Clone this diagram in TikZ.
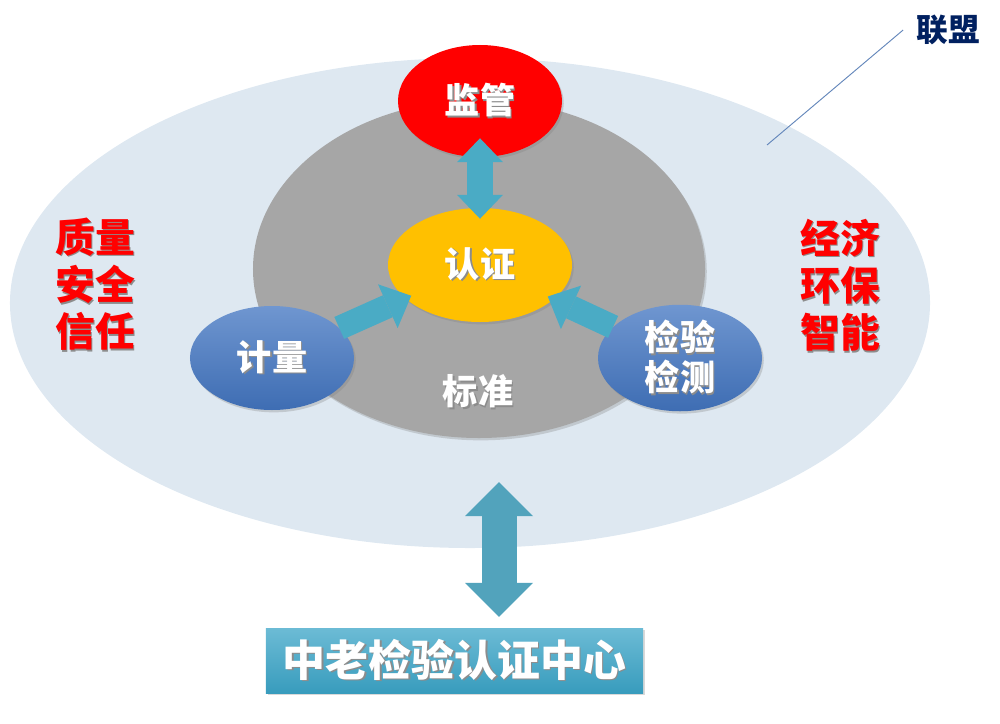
\documentclass[tikz,border=0pt]{standalone}
\usepackage{fontspec}
\newfontfamily\cjk{Noto Sans CJK SC}
\usetikzlibrary{
  shapes.geometric,
  shadows,
  arrows.meta,
}
\definecolor{lmbg}{HTML}{DEE8F1}
\definecolor{bzgray}{HTML}{A6A6A6}
\definecolor{jgred}{HTML}{FF0000}
\definecolor{rzyellow}{HTML}{FFC000}
\definecolor{ovaltop}{HTML}{6F96D0}
\definecolor{ovalbot}{HTML}{3E6DB3}
\definecolor{arrowblue}{HTML}{4AABC5}
\definecolor{bigarrow}{HTML}{52A3BC}
\definecolor{boxtop}{HTML}{6CBBD5}
\definecolor{boxbot}{HTML}{389CBD}
\definecolor{navy}{HTML}{002060}
\newcommand{\shd}[1]{\leavevmode\rlap{\kern1.3pt\raisebox{-1.3pt}{\color{black!45}#1}}#1}

\begin{document}
\begin{tikzpicture}[
  x=0.03cm, y=-0.03cm,
  oval/.style={ellipse, inner sep=0pt, text=white, align=center,
    font=\cjk\bfseries\fontsize{30}{34}\selectfont},
  soft/.style={drop shadow={opacity=0.3, shadow xshift=1.5pt, shadow yshift=-2pt}},
  side/.style={text=jgred, align=center, font=\cjk\bfseries\fontsize{34}{40.4}\selectfont},
  fat/.style={draw=arrowblue, line width=0.78cm,
    {Triangle[width=1.38cm,length=0.72cm,line width=0pt]}-{Triangle[width=1.38cm,length=0.72cm,line width=0pt]}},
  fatone/.style={draw=arrowblue, line width=0.72cm,
    -{Triangle[width=1.44cm,length=0.77cm,line width=0pt]}},
  fatbig/.style={draw=bigarrow, line width=1.05cm,
    {Triangle[width=2.04cm,length=1.02cm,line width=0pt]}-{Triangle[width=2.04cm,length=1.02cm,line width=0pt]}},
]
\useasboundingbox (0,0) rectangle (1000,724);

% ellipses
\node[ellipse, fill=lmbg, minimum width=27.6cm, minimum height=14.7cm] (lmq) at (470,303) {};
\node[ellipse, fill=bzgray, soft, minimum width=13.56cm, minimum height=10.14cm] (bzq) at (479,269) {};
\node[oval] (bz) at (478,392) {\shd{标准}};
\node[oval, fill=jgred, soft, minimum width=4.92cm, minimum height=3.36cm] (jg) at (480,101) {\shd{监管}};
\node[oval, fill=rzyellow, soft, minimum width=5.52cm, minimum height=3.42cm] (rz) at (480,265) {\shd{认证}};
\node[oval, top color=ovaltop, bottom color=ovalbot, soft, minimum width=4.92cm, minimum height=3.12cm] (jl) at (272,358) {\shd{计量}};
\node[oval, top color=ovaltop, bottom color=ovalbot, soft, minimum width=4.92cm, minimum height=3.12cm] (jc) at (680,358) {\shd{检验}\\\shd{检测}};

% arrows
\draw[fat, shorten <=-0.57cm, shorten >=-0.33cm] (jg) -- (rz);
\draw[fatone, shorten >=-0.2cm] (jl) -- (rz);
\draw[fatone, shorten >=-0.2cm] (jc) -- (rz);

% side texts
\node[side] (zl) at (95,285) {\shd{质量}\\\shd{安全}\\\shd{信任}};
\node[side] (jj) at (840,286) {\shd{经济}\\\shd{环保}\\\shd{智能}};

% lianmeng
\node[text=navy, inner sep=0pt, font=\cjk\bfseries\fontsize{27}{30}\selectfont] (lm) at (948,30) {联盟};
\coordinate (lmp) at (767,145);
\draw[draw=ovaltop!90!black, line width=0.8pt] (lm.west) ++(-13,0) -- (lmp);

% centre box
\node[inner sep=0pt, top color=boxtop, bottom color=boxbot, soft, text=white,
  minimum width=11.31cm, minimum height=1.95cm,
  font=\cjk\bfseries\fontsize{36.6}{40}\selectfont] (zx) at (454.5,660.5) {\shd{中老检验认证中心}};
\coordinate (lmtop) at (499,482);
\draw[fatbig, shorten >=0.33cm] (lmtop) -- (lmtop |- zx.north);
\end{tikzpicture}
\end{document}
